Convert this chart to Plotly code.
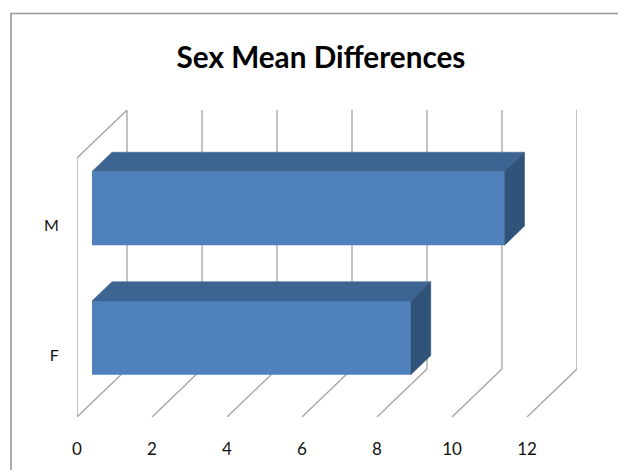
import plotly.graph_objects as go

# Chart content
categories = ["F", "M"]
mean_differences = [8.5, 11]
value_ticks = [0, 2, 4, 6, 8, 10, 12]
title_text = "Sex Mean Differences"

# Oblique projection: how far one full unit of depth shifts a point, in axis units
DEPTH_X = 4 / 3
DEPTH_Y = 0.3707
BAR_FRONT = 0.3
BAR_BACK = 0.7
BAR_THICKNESS = 0.571
X_MAX = 12 + DEPTH_X
Y_MAX = len(categories) + DEPTH_Y

WIDTH, HEIGHT = 618, 470
LEFT, RIGHT, TOP, BOTTOM = 77, 41, 110, 53

GRID = "#a3a3a3"
FRONT = "#4f81bd"
TOP_FACE = "#3e6491"
SIDE_FACE = "#305379"


def project(value, level, depth):
    return value + depth * DEPTH_X, level + depth * DEPTH_Y


def polygon(points, color):
    xs, ys = zip(*(project(*p) for p in points))
    return go.Scatter(
        x=list(xs) + [xs[0]], y=list(ys) + [ys[0]], mode="lines", fill="toself",
        fillcolor=color, line=dict(color=color, width=0.5),
        hoverinfo="skip", showlegend=False,
    )


fig = go.Figure()

centers = [i + 0.5 for i in range(len(categories))]
half = BAR_THICKNESS / 2

# Front faces of the bars
fig.add_trace(go.Bar(
    x=mean_differences,
    y=[c + BAR_FRONT * DEPTH_Y for c in centers],
    base=BAR_FRONT * DEPTH_X,
    width=BAR_THICKNESS,
    orientation="h",
    marker=dict(color=FRONT, line=dict(width=0)),
    showlegend=False,
))

# Top and end faces of the bars
for c, v in zip(centers, mean_differences):
    top, low = c + half, c - half
    fig.add_trace(polygon([(0, top, BAR_FRONT), (v, top, BAR_FRONT),
                           (v, top, BAR_BACK), (0, top, BAR_BACK)], TOP_FACE))
    fig.add_trace(polygon([(v, top, BAR_FRONT), (v, low, BAR_FRONT),
                           (v, low, BAR_BACK), (v, top, BAR_BACK)], SIDE_FACE))


def wall_segment(a, b):
    (x0, y0), (x1, y1) = project(*a), project(*b)
    return dict(type="line", xref="x", yref="y", x0=x0, y0=y0, x1=x1, y1=y1,
                layer="below", line=dict(color=GRID, width=1.3))


# Floor and back-wall gridlines, plus the left wall outline
span = len(categories)
shapes = []
for v in value_ticks:
    shapes.append(wall_segment((v, 0, 1), (v, span, 1)))
    shapes.append(wall_segment((v, 0, 0), (v, 0, 1)))
shapes.append(wall_segment((0, 0, 0), (0, span, 0)))
shapes.append(wall_segment((0, span, 0), (0, span, 1)))

# Chart-area border, open on the right and bottom
plot_w, plot_h = WIDTH - LEFT - RIGHT, HEIGHT - TOP - BOTTOM
px = lambda p: (p - LEFT) / plot_w
py = lambda p: (HEIGHT - BOTTOM - p) / plot_h
shapes.append(dict(
    type="path", xref="paper", yref="paper",
    path=f"M {px(11)} {py(470)} L {px(11)} {py(13.5)} L {px(618)} {py(13.5)}",
    line=dict(color="#979797", width=1.6),
))

fig.update_layout(
    width=WIDTH, height=HEIGHT,
    margin=dict(l=LEFT, r=RIGHT, t=TOP, b=BOTTOM, pad=0, autoexpand=False),
    paper_bgcolor="white", plot_bgcolor="white",
    font=dict(family="Lato", color="#111111"),
    shapes=shapes,
    showlegend=False,
    title=dict(text=title_text, x=321 / WIDTH, xanchor="center", y=1 - 58 / HEIGHT,
               yanchor="middle", automargin=False,
               font=dict(family="Lato", size=29.7, weight="bold", color="#000000")),
    xaxis=dict(range=[0, X_MAX], tickmode="array", tickvals=value_ticks,
               ticktext=[str(v) for v in value_ticks], automargin=False,
               showgrid=False, zeroline=False, showline=False,
               ticks="outside", ticklen=17, tickcolor="rgba(0,0,0,0)",
               tickfont=dict(size=17)),
    yaxis=dict(range=[0, Y_MAX], tickmode="array", tickvals=centers, ticktext=categories,
               automargin=False, ticklabelshift=3,
               showgrid=False, zeroline=False, showline=False,
               ticks="outside", ticklen=14, tickcolor="rgba(0,0,0,0)",
               tickfont=dict(size=16)),
)

fig.write_html("out.html")
